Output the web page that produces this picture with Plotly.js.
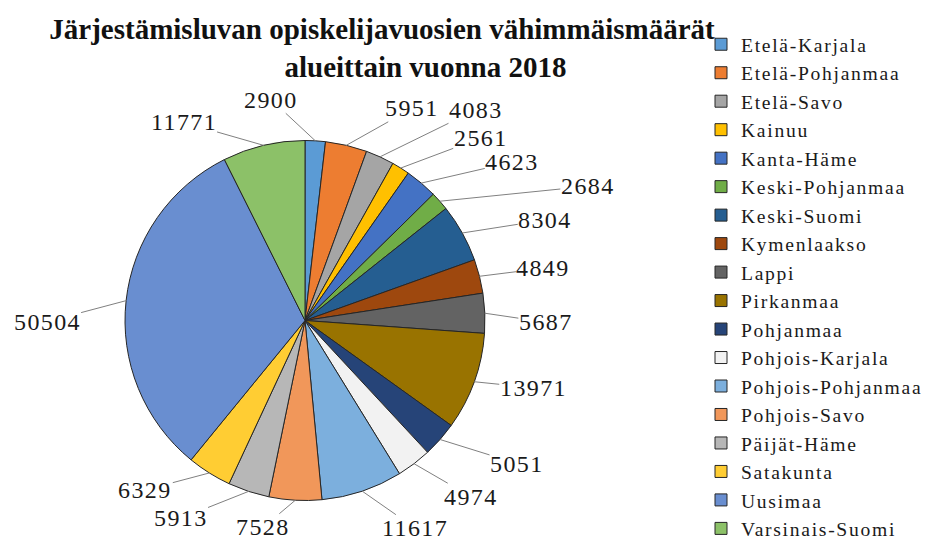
<!DOCTYPE html>
<html>
<head>
<meta charset="utf-8">
<script src="https://cdn.plot.ly/plotly-3.0.1.min.js"></script>
<style>
  html, body { margin: 0; padding: 0; background: #ffffff; }
  #chart { width: 929px; height: 548px; }
  .legendtext { letter-spacing: 1.7px; }
  .annotation-text { letter-spacing: 1.4px; }
</style>
</head>
<body>
<div id="chart"></div>
<script>
// ---- data ----
const regions = [
  "Etelä-Karjala", "Etelä-Pohjanmaa", "Etelä-Savo", "Kainuu", "Kanta-Häme",
  "Keski-Pohjanmaa", "Keski-Suomi", "Kymenlaakso", "Lappi", "Pirkanmaa",
  "Pohjanmaa", "Pohjois-Karjala", "Pohjois-Pohjanmaa", "Pohjois-Savo",
  "Päijät-Häme", "Satakunta", "Uusimaa", "Varsinais-Suomi"
];
const studentYears = [
  2900, 5951, 4083, 2561, 4623,
  2684, 8304, 4849, 5687, 13971,
  5051, 4974, 11617, 7528,
  5913, 6329, 50504, 11771
];
const chartTitle = "Järjestämisluvan opiskelijavuosien vähimmäismäärät";
const chartSubtitle = "alueittain vuonna 2018";

// ---- styles ----
const sliceColors = [
  "#5B9BD5", "#ED7D31", "#A5A5A5", "#FFC000", "#4472C4",
  "#70AD47", "#255E91", "#9E480E", "#636363", "#997300",
  "#264478", "#F2F2F2", "#7CAFDD", "#F1975A",
  "#B7B7B7", "#FFCD33", "#698ED0", "#8CC168"
];
// label placement: pixel offset of each value label from its slice's outer edge
const labelOffsets = [
  [-44, -41], [66, -37], [96, -47], [80, -30], [91, -21],
  [148, -15], [83, -13], [64, -8], [61, 9], [59, 6],
  [77, 24], [57, 33], [53, 37], [-32, 27],
  [-68, 27], [-64, 17], [-79, 21], [-80, -23]
];

const W = 929, H = 548;
const cx = 305, cy = 320.5, R = 180;
const domainX = [(cx - R) / W, (cx + R) / W];
const domainY = [(H - cy - R) / H, (H - cy + R) / H];

const total = studentYears.reduce((a, b) => a + b, 0);
let cum = 0;
const annotations = studentYears.map((v, i) => {
  const mid = (cum + v / 2) / total * 2 * Math.PI;
  cum += v;
  const px = cx + R * Math.sin(mid);
  const py = cy - R * Math.cos(mid);
  return {
    x: px / W, y: 1 - py / H, xref: "paper", yref: "paper",
    text: String(v),
    showarrow: true, arrowhead: 0, arrowwidth: 1, arrowcolor: "#808080",
    ax: labelOffsets[i][0], ay: labelOffsets[i][1],
    standoff: 0, borderpad: 0,
    font: { family: "Liberation Serif, Times New Roman, serif", size: 24, color: "#1a1a1a" }
  };
});

const trace = {
  type: "pie",
  labels: regions,
  values: studentYears,
  sort: false,
  direction: "clockwise",
  rotation: 0,
  textinfo: "none",
  hoverinfo: "label+value+percent",
  marker: { colors: sliceColors, line: { color: "#262626", width: 1 } },
  domain: { x: domainX, y: domainY }
};

const spaces = "&nbsp;".repeat(12);
const layout = {
  width: W, height: H,
  margin: { l: 0, r: 0, t: 0, b: 0 },
  paper_bgcolor: "#ffffff",
  showlegend: true,
  title: {
    text: chartTitle + "<br>" + spaces + chartSubtitle,
    x: 382 / W, xanchor: "center", xref: "container",
    y: 1 - 39 / H, yanchor: "top", yref: "container",
    font: { family: "Liberation Serif, Times New Roman, serif", size: 29, weight: "bold", color: "#111111" }
  },
  legend: {
    x: 701 / W, xanchor: "left",
    y: 1 - 38 / H, yanchor: "top",
    font: { family: "Liberation Serif, Times New Roman, serif", size: 19.6, color: "#1a1a1a" },
    bgcolor: "rgba(0,0,0,0)",
    traceorder: "normal"
  },
  annotations: annotations
};

Plotly.newPlot("chart", [trace], layout, { displayModeBar: false });
</script>
</body>
</html>
